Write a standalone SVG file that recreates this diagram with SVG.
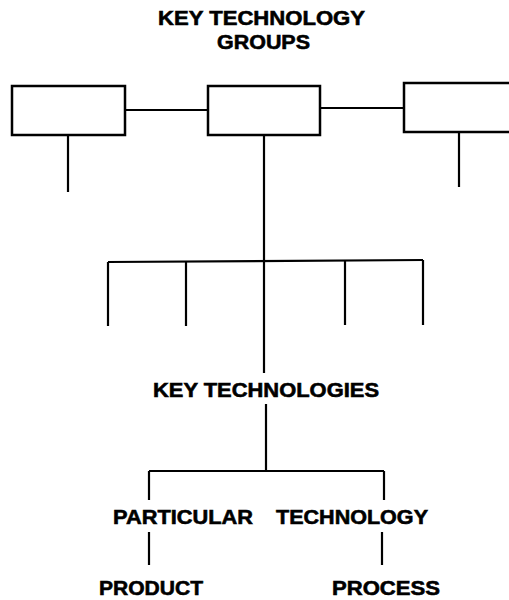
<svg xmlns="http://www.w3.org/2000/svg" width="509" height="600" viewBox="0 0 509 600">
<style>
.lbl{font-family:"Liberation Sans",Arial,sans-serif;font-weight:bold;font-size:21px;fill:#000;stroke:#000;stroke-width:0.6}
.box{fill:#fff;stroke:#000;stroke-width:2.5}
.ln{stroke:#000;stroke-width:2.2;fill:none}
</style>
<rect width="509" height="600" fill="#fff"/>
<g id="title">
<text class="lbl" x="158" y="25" textLength="207" lengthAdjust="spacingAndGlyphs">KEY TECHNOLOGY</text>
<text class="lbl" x="217" y="49" textLength="93" lengthAdjust="spacingAndGlyphs">GROUPS</text>
</g>
<g id="connectors">
<line class="ln" x1="125" y1="110" x2="208" y2="110"/>
<line class="ln" x1="320" y1="108" x2="404" y2="108"/>
<line class="ln" x1="68" y1="135" x2="68" y2="192"/>
<line class="ln" x1="459" y1="132" x2="459" y2="187"/>
<line class="ln" x1="264" y1="135" x2="264" y2="373"/>
<line class="ln" x1="108" y1="262" x2="423" y2="260"/>
<line class="ln" x1="108" y1="262" x2="108" y2="326"/>
<line class="ln" x1="186" y1="261" x2="186" y2="326"/>
<line class="ln" x1="345" y1="261" x2="345" y2="325"/>
<line class="ln" x1="423" y1="260" x2="423" y2="325"/>
<line class="ln" x1="266" y1="404" x2="266" y2="471"/>
<line class="ln" x1="149" y1="471" x2="384" y2="471"/>
<line class="ln" x1="149" y1="471" x2="149" y2="500"/>
<line class="ln" x1="384" y1="471" x2="384" y2="500"/>
<line class="ln" x1="149" y1="532" x2="149" y2="565"/>
<line class="ln" x1="382" y1="532" x2="382" y2="565"/>
</g>
<g id="box-left"><rect class="box" x="12" y="86" width="113" height="49"/></g>
<g id="box-middle"><rect class="box" x="208" y="86" width="112" height="49"/></g>
<g id="box-right"><rect class="box" x="404" y="83" width="120" height="49"/></g>
<g id="key-technologies">
<text class="lbl" x="153" y="397" textLength="226" lengthAdjust="spacingAndGlyphs">KEY TECHNOLOGIES</text>
</g>
<g id="particular"><text class="lbl" x="113" y="524" textLength="140" lengthAdjust="spacingAndGlyphs">PARTICULAR</text></g>
<g id="technology"><text class="lbl" x="276" y="524" textLength="152" lengthAdjust="spacingAndGlyphs">TECHNOLOGY</text></g>
<g id="product"><text class="lbl" x="99" y="595" textLength="104" lengthAdjust="spacingAndGlyphs">PRODUCT</text></g>
<g id="process"><text class="lbl" x="332" y="595" textLength="108" lengthAdjust="spacingAndGlyphs">PROCESS</text></g>
</svg>
